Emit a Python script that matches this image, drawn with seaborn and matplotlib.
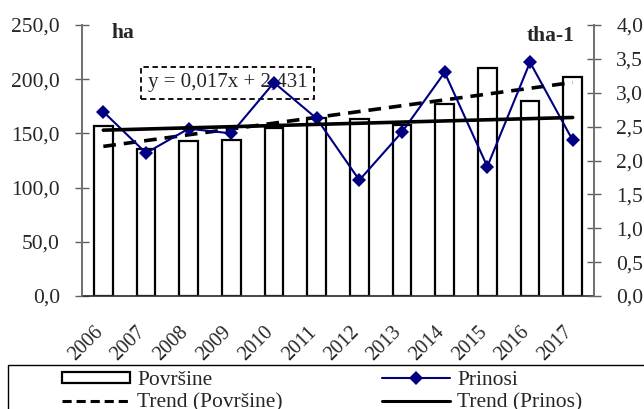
"""
Površine (ha) i prinosi (t/ha) 2006-2017 sa linijama trenda.
"""

import matplotlib
matplotlib.use("Agg")

import matplotlib.pyplot as plt
from matplotlib.patches import Rectangle
from matplotlib.ticker import FuncFormatter, FixedLocator
from matplotlib.transforms import ScaledTranslation
import numpy as np
import pandas as pd
import seaborn as sns

godine = ["2006", "2007", "2008", "2009", "2010", "2011",
          "2012", "2013", "2014", "2015", "2016", "2017"]
povrsine = [157, 136, 143, 144, 155, 164, 163, 158, 177, 210, 180, 202]
prinosi = [2.72, 2.11, 2.47, 2.40, 3.15, 2.62, 1.71, 2.42, 3.30, 1.91, 3.45, 2.30]

# krajnje vrednosti linija trenda, ocitane sa grafikona (2006 i 2017)
trend_godine = [0, 11]
trend_povrsine = [138, 197]
trend_prinos = [2.448, 2.635]
jednacina = "y = 0,017x + 2,431"

sns.set_theme(style="white")
plt.rcParams["font.family"] = ["Liberation Serif", "DejaVu Serif"]
FS = 15.5


def zarez(v, _):
    return f"{v:.1f}".replace(".", ",")


def main():
    df = pd.DataFrame({"godina": godine, "povrsine": povrsine,
                       "prinosi": prinosi, "poz": np.arange(len(godine))})

    fig = plt.figure(figsize=(6.44, 4.09), dpi=100)
    ax = fig.add_axes([82 / 644, 1 - 296 / 409, 512 / 644, 271 / 409])
    ax2 = ax.twinx()

    sns.barplot(data=df, x="poz", y="povrsine", ax=ax, color="white",
                edgecolor="black", linewidth=1.6, width=0.43, saturation=1)
    sns.lineplot(x=trend_godine, y=trend_povrsine, ax=ax, color="black",
                 lw=2.6, zorder=5)
    ax.lines[-1].set_linestyle((0, (3.5, 2.2)))

    sns.lineplot(data=df, x="poz", y="prinosi", ax=ax2, color="#000080",
                 lw=1.5, marker="D", markersize=7.5, markeredgewidth=0)
    sns.lineplot(x=trend_godine, y=trend_prinos, ax=ax2, color="black", lw=2.6)

    ax.set_xlim(-0.5, 11.5)
    ax.set_ylim(0, 250)
    ax2.set_ylim(0, 4)
    ax.set_yticks(np.arange(0, 251, 50))
    ax2.set_yticks(np.arange(0, 4.01, 0.5))
    ax.yaxis.set_major_formatter(FuncFormatter(zarez))
    ax2.yaxis.set_major_formatter(FuncFormatter(zarez))

    ax.set_xticks(np.arange(len(godine)))
    ax.set_xticklabels(godine, rotation=45, ha="right", va="baseline",
                       rotation_mode="anchor", fontsize=14.5)
    pomak = ScaledTranslation(0.03, 0, fig.dpi_scale_trans)
    for lbl in ax.get_xticklabels():
        lbl.set_transform(lbl.get_transform() + pomak)
    ax.xaxis.set_minor_locator(FixedLocator(np.arange(-0.5, 12, 1)))
    ax.tick_params(axis="x", which="major", length=0, pad=26.6)
    ax.tick_params(axis="x", which="minor", direction="inout", length=10,
                   width=1, color="#404040")
    ax.tick_params(axis="y", direction="inout", length=10, width=1,
                   color="#606060", labelsize=FS, pad=11, left=True)
    ax2.tick_params(axis="y", direction="inout", length=10, width=1,
                    color="#606060", labelsize=FS, pad=11, right=True)
    ax.set_xlabel("")
    ax.set_ylabel("")
    ax2.set_ylabel("")

    for a in (ax, ax2):
        a.spines["top"].set_visible(False)
        a.spines["left"].set_color("#707070")
        a.spines["right"].set_color("#707070")
        a.spines["bottom"].set_color("#303030")
        a.grid(False)
    ax2.spines["bottom"].set_visible(False)

    ax.text(0.058, 0.97, "ha", transform=ax.transAxes, fontsize=FS,
            fontweight="bold", va="center")
    ax2.text(0.962, 0.96, "tha-1", transform=ax2.transAxes, fontsize=FS,
             fontweight="bold", va="center", ha="right")
    ax.text((139 + 316) / 2 / 644, 1 - 83 / 409, jednacina,
            transform=fig.transFigure, fontsize=15, ha="center",
            va="center", zorder=1,
            bbox=dict(boxstyle="square,pad=0.3", fc="none", ec="black",
                      ls=(0, (3, 2)), lw=1.3))

    # legenda
    h_pov = Rectangle((0, 0), 1, 1, fc="white", ec="black", lw=1.6)
    h_pri = plt.Line2D([], [], color="#000080", lw=1.5, marker="D",
                       markersize=7.5, markeredgewidth=0)
    h_tpov = plt.Line2D([], [], color="black", lw=2.2, ls=(0, (3, 1.6)))
    h_tpri = plt.Line2D([], [], color="black", lw=2.2)
    fig.legend([h_pov, h_tpov, h_pri, h_tpri],
               ["Površine", "Trend (Površine)", "Prinosi", "Trend (Prinos)"],
               ncol=2, loc="upper left", bbox_to_anchor=(62 / 644, 1 - 371 / 409),
               frameon=False, fontsize=FS, handlelength=3.15, handleheight=0.4,
               handletextpad=0.35, columnspacing=4.6, labelspacing=0.15,
               borderpad=0, borderaxespad=0)
    fig.patches.append(Rectangle((8 / 644, -0.1), 1.0, 1.1 - 365 / 409,
                                 transform=fig.transFigure, fc="none",
                                 ec="black", lw=1.0))

    fig.savefig("out.png", dpi=100)
    plt.close(fig)


if __name__ == "__main__":
    main()
